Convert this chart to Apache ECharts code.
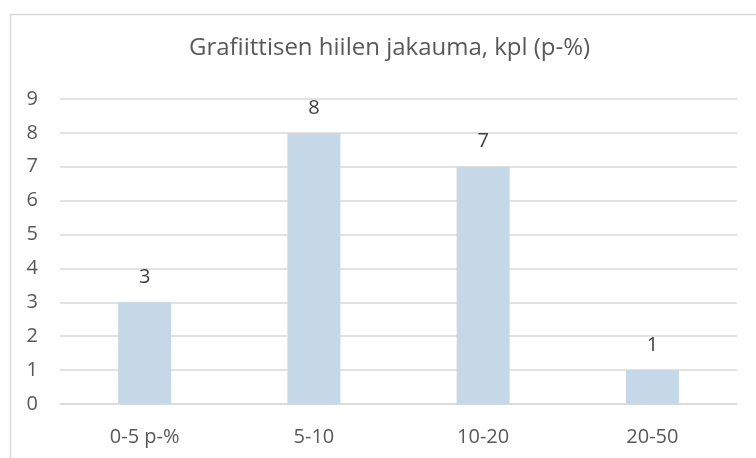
<!DOCTYPE html>
<html>
<head>
<meta charset="utf-8">
<script src="https://cdn.jsdelivr.net/npm/echarts@6/dist/echarts.min.js"></script>
<style>
  html, body { margin: 0; padding: 0; background: #fff; }
  #chart { width: 756px; height: 458px; }
</style>
</head>
<body>
<div id="chart"></div>
<script>
const categories = ['0-5 p-%', '5-10', '10-20', '20-50']
const counts = [3, 8, 7, 1]
const titleText = 'Grafiittisen hiilen jakauma, kpl (p-%)'

const chart = echarts.init(document.getElementById('chart'))

chart.setOption({
  animation: false,
  textStyle: { fontFamily: 'Open Sans' },
  title: {
    text: titleText,
    left: 184,
    top: 31,
    textStyle: { fontFamily: 'Open Sans', fontSize: 24, fontWeight: 'normal', color: '#595959' }
  },
  // outer chart border, cropped on the right and bottom
  graphic: [{
    type: 'rect',
    left: 8,
    top: 12,
    shape: { width: 800, height: 500 },
    style: { fill: 'none', stroke: '#D9D9D9', lineWidth: 1.5 },
    silent: true
  }],
  grid: { left: 60, right: 19, top: 99, bottom: 54 },
  xAxis: {
    type: 'category',
    data: categories,
    axisLine: { lineStyle: { color: '#D9D9D9', width: 1.5 } },
    axisTick: { show: false },
    axisLabel: { color: '#595959', fontSize: 20, margin: 23 }
  },
  yAxis: {
    type: 'value',
    min: 0,
    max: 9,
    interval: 1,
    axisLine: { show: false },
    axisTick: { show: false },
    axisLabel: { color: '#595959', fontSize: 20, margin: 22 },
    splitLine: { lineStyle: { color: '#D9D9D9', width: 1.5 } }
  },
  series: [{
    type: 'bar',
    data: counts,
    barWidth: 53,
    itemStyle: { color: '#C5D8E7' },
    label: {
      show: true,
      position: 'top',
      distance: 15,
      color: '#404040',
      fontSize: 20
    }
  }]
})
</script>
</body>
</html>
